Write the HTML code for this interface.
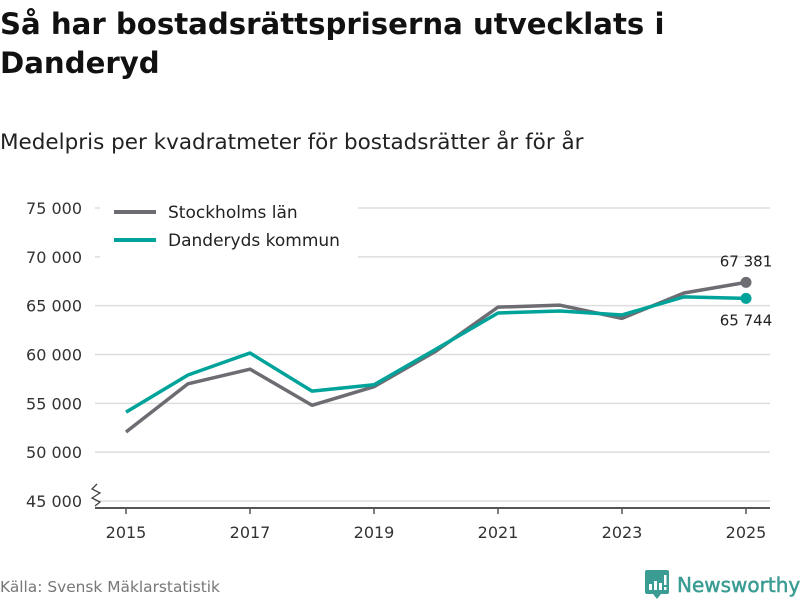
<!DOCTYPE html>
<html><head><meta charset="utf-8"><style>
body{margin:0;background:#fff;font-family:"DejaVu Sans","Liberation Sans",sans-serif;}
#wrap{position:relative;width:800px;height:600px;overflow:hidden}
h1{position:absolute;left:0;top:5px;margin:0;font-size:29.2px;line-height:39px;font-weight:bold;color:#111;width:790px}
#sub{position:absolute;left:0;top:130px;font-size:21.5px;color:#222}
#src{position:absolute;left:0;top:578px;font-size:15.4px;color:#777}
#logo{position:absolute;left:645px;top:570px;display:flex;align-items:center}
#logo span{font-size:20px;color:#3a9c93;font-weight:normal;margin-left:8px;-webkit-text-stroke:0.5px #3a9c93}
</style></head><body><div id="wrap">
<h1>Så har bostadsrättspriserna utvecklats i Danderyd</h1>
<div id="sub">Medelpris per kvadratmeter för bostadsrätter år för år</div>
<svg id="chart" width="800" height="600" style="position:absolute;left:0;top:0"></svg>
<div id="src">Källa: Svensk Mäklarstatistik</div>
<div id="logo">
<svg width="24" height="30"><path d="M0 2 Q0 0 2 0 H22 Q24 0 24 2 V22 Q24 24 22 24 H16 L12 29 L8 24 H2 Q0 24 0 22 Z" fill="#3a9c93"/><rect x="4" y="14" width="3" height="6" fill="#fff"/><rect x="9" y="11" width="3" height="9" fill="#fff"/><rect x="14" y="13" width="3" height="7" fill="#fff"/><rect x="19" y="5" width="2.5" height="10" fill="#fff"/><rect x="19" y="17" width="2.5" height="3" fill="#fff"/></svg>
<span>Newsworthy</span></div>
</div>
<script>
const years=[2015,2016,2017,2018,2019,2020,2021,2022,2023,2024,2025];
const stockholm=[52060,57000,58500,54800,56700,60350,64850,65050,63700,66300,67381];
const danderyd=[54100,57900,60150,56250,56900,60550,64250,64450,64050,65900,65744];
const yTicks=[45000,50000,55000,60000,65000,70000,75000];
const xTicks=[2015,2017,2019,2021,2023,2025];
const NS="http://www.w3.org/2000/svg";
const svg=document.getElementById('chart');
const x=v=>126+(v-2015)*62;
const y=v=>501-(v-45000)*293/30000;
const fmt=v=>String(v).replace(/\B(?=(\d{3})+(?!\d))/g,' ');
function mk(t,a,p){const e=document.createElementNS(NS,t);for(const k in a)e.setAttribute(k,a[k]);(p||svg).appendChild(e);return e;}
yTicks.forEach(t=>{
 const l=mk('line',{x1:95,x2:770,y1:y(t),y2:y(t),stroke:'#ddd','stroke-width':1.5});
 
 
 const tx=mk('text',{x:82,y:y(t)+6,'text-anchor':'end','font-size':16,fill:'#333'});
 tx.textContent=fmt(t);
 
 
});
const base=mk('line',{x1:95,x2:770,y1:508,y2:508,stroke:'#555','stroke-width':2});


const br=mk('path',{d:'M97 484 L92 489 L100 493 L92 498 L100 502 L95 506',fill:'none',stroke:'#444','stroke-width':1.3});


xTicks.forEach(t=>{
 const l=mk('line',{x1:x(t),x2:x(t),y1:508,y2:514,stroke:'#555','stroke-width':1.5});
 
 
 const tx=mk('text',{x:x(t),y:538,'text-anchor':'middle','font-size':16,fill:'#333'});
 tx.textContent=t;
 
 
});
function series(vals,col,name){
 const p=mk('polyline',{points:vals.map((v,i)=>x(years[i])+','+y(v)).join(' '),fill:'none',stroke:col,'stroke-width':3.5,'stroke-linejoin':'round'});
 
 
 const n=vals.length-1;
 const c=mk('circle',{cx:x(years[n]),cy:y(vals[n]),r:5.5,fill:col});
 
 
}
series(stockholm,'#6d6c72','stockholm');
series(danderyd,'#00a39a','danderyd');
const n=years.length-1;
const l1=mk('text',{x:x(years[n]),y:y(stockholm[n])-16,'text-anchor':'middle','font-size':15,fill:'#222'});
l1.textContent=fmt(stockholm[n]);


const l2=mk('text',{x:x(years[n]),y:y(danderyd[n])+27,'text-anchor':'middle','font-size':15,fill:'#222'});
l2.textContent=fmt(danderyd[n]);


const bg=mk('rect',{x:100,y:196,width:258,height:62,fill:'#fff'});


[['Stockholms län','#6d6c72',212],['Danderyds kommun','#00a39a',240]].forEach(([t,c,yy])=>{
 const g=mk('g',{});
 
 
 mk('line',{x1:114,x2:156,y1:yy,y2:yy,stroke:c,'stroke-width':4},g);
 const tx=mk('text',{x:168,y:yy+6,'font-size':17,fill:'#222'},g);
 tx.textContent=t;
});
</script></body></html>
